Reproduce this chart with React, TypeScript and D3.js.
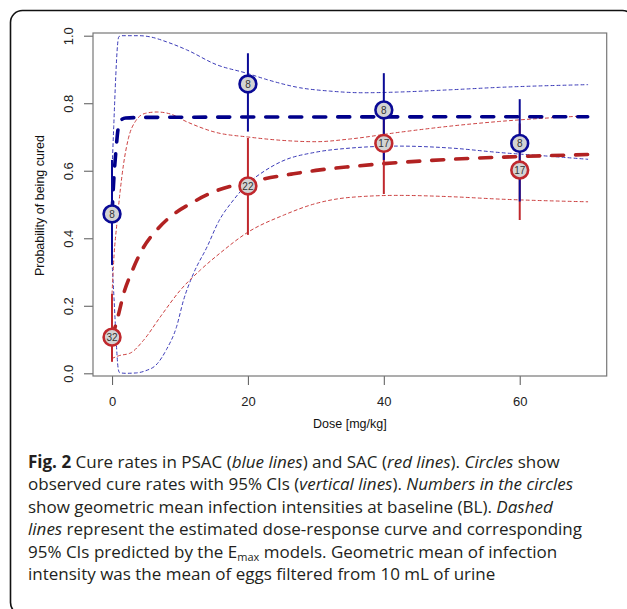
import React, { useEffect, useRef } from 'react';
import * as d3 from 'd3';

// observed cure rates (circles) with 95% CIs
const doses = [0, 20, 40, 60];
const psacRate = [0.472, 0.857, 0.78, 0.681];
const psacLow = [0.321, 0.716, 0.632, 0.509];
const psacHigh = [0.632, 0.948, 0.889, 0.812];
const psacIntensity = ['8', '8', '8', '8'];
const sacRate = [0.107, 0.555, 0.681, 0.602];
const sacLow = [0.034, 0.41, 0.531, 0.454];
const sacHigh = [0.235, 0.697, 0.8, 0.74];
const sacIntensity = ['32', '22', '17', '17'];

// Emax model curves: [dose, probability]
const psacFit: [number, number][] = [
  [0, 0.472], [0.25, 0.57], [0.6, 0.665], [0.9, 0.725], [1.3, 0.75], [2, 0.756],
  [5, 0.758], [20, 0.759], [70, 0.76],
];
const psacFitLow: [number, number][] = [
  [0, 0.33], [0.3, 0.22], [0.6, 0.1], [0.9, 0.015], [1.1, 0.002], [2, 0], [3.5, 0.001],
  [5, 0.008], [6.5, 0.025], [8, 0.07], [9.5, 0.138], [10.5, 0.215], [12, 0.296],
  [14, 0.375], [15.7, 0.45], [17.9, 0.514], [20, 0.562], [22.5, 0.6], [25, 0.628],
  [30, 0.655], [35, 0.667], [42, 0.673], [50, 0.667], [57, 0.654], [65, 0.642], [70, 0.634],
];
const psacFitHigh: [number, number][] = [
  [0, 0.6], [0.25, 0.73], [0.55, 0.88], [0.8, 0.97], [1, 0.997], [1.5, 1], [4, 1],
  [5.5, 0.997], [8, 0.982], [11, 0.958], [15.4, 0.914], [19.8, 0.889], [22.8, 0.87],
  [27.6, 0.846], [32, 0.836], [37, 0.831], [42, 0.833], [50, 0.84], [57, 0.847], [70, 0.855],
];
const sacFit: [number, number][] = [
  [0, 0.105], [0.5, 0.14], [1, 0.178], [1.7, 0.235], [2.9, 0.3], [4.6, 0.372], [6.6, 0.425],
  [8.6, 0.464], [11.5, 0.502], [15.4, 0.541], [20, 0.566], [26.7, 0.591], [30, 0.601],
  [35, 0.612], [40, 0.621], [50, 0.634], [60, 0.642], [70, 0.648],
];
const sacFitLow: [number, number][] = [
  [0, 0.044], [1, 0.052], [2.7, 0.06], [4.6, 0.097], [7.1, 0.167], [10, 0.245], [13, 0.306],
  [15.9, 0.356], [20, 0.418], [25.2, 0.468], [30, 0.503], [35, 0.521], [42, 0.527],
  [50, 0.523], [57, 0.516], [70, 0.508],
];
const sacFitHigh: [number, number][] = [
  [0, 0.235], [0.3, 0.35], [0.7, 0.44], [1.2, 0.54], [1.7, 0.62], [2.4, 0.695], [3.5, 0.748],
  [4.9, 0.77], [6.6, 0.774], [8.6, 0.768], [11, 0.745], [15.4, 0.713], [20, 0.7], [25, 0.69],
  [30, 0.686], [35, 0.694], [42.3, 0.714], [49.7, 0.732], [57, 0.746], [70, 0.763],
];

const xTicks = [0, 20, 40, 60];
const yTicks = [0, 0.2, 0.4, 0.6, 0.8, 1.0];

const BLUE = '#00008b';
const BLUE_THIN = '#3a3ab8';
const RED = '#b22222';
const RED_THIN = '#cc4040';

const W = 627;
const H = 609;

const App: React.FC = () => {
  const plotRef = useRef<SVGGElement>(null);

  useEffect(() => {
    if (!plotRef.current) return;
    const svg = d3.select(plotRef.current);
    svg.selectAll('*').remove();

    // outer rounded frame (runs off the right and bottom edges)
    svg.append('rect')
      .attr('x', 10.5).attr('y', 10.5)
      .attr('width', 624).attr('height', 604)
      .attr('rx', 12)
      .attr('fill', 'none').attr('stroke', '#111').attr('stroke-width', 1.6);

    const box = { left: 93, top: 33, right: 606.7, bottom: 376 };

    const x = d3.scaleLinear().domain([-2.8, 72.8]).range([box.left, box.right]);
    const y = d3.scaleLinear().domain([-0.008, 1.008]).range([box.bottom, box.top]);

    const font = 'Liberation Sans, Arial, Helvetica, sans-serif';

    // axes
    const xAxis = svg.append('g')
      .attr('transform', `translate(0,${box.bottom})`)
      .call(d3.axisBottom(x).tickValues(xTicks).tickSize(9).tickPadding(12).tickFormat(d3.format('d')));
    const yAxis = svg.append('g')
      .attr('transform', `translate(${box.left},0)`)
      .call(d3.axisLeft(y).tickValues(yTicks).tickSize(9).tickFormat(d3.format('.1f')));

    [xAxis, yAxis].forEach(g => {
      g.select('.domain').remove();
      g.selectAll('line').attr('stroke', '#666').attr('stroke-width', 1.1);
      g.selectAll('text')
        .attr('font-family', font).attr('font-size', 13).attr('fill', '#222');
    });
    yAxis.selectAll('text')
      .attr('x', null).attr('dy', '0.35em')
      .attr('text-anchor', 'middle')
      .attr('transform', 'translate(-25,0) rotate(-90)');

    // plot frame
    svg.append('rect')
      .attr('x', box.left).attr('y', box.top)
      .attr('width', box.right - box.left).attr('height', box.bottom - box.top)
      .attr('fill', 'none').attr('stroke', '#777').attr('stroke-width', 1.2);

    // axis titles
    svg.append('text')
      .attr('x', (box.left + box.right) / 2).attr('y', 428)
      .attr('text-anchor', 'middle')
      .attr('font-family', font).attr('font-size', 12.5).attr('fill', '#111')
      .text('Dose [mg/kg]');
    svg.append('text')
      .attr('transform', `translate(40,${(box.top + box.bottom) / 2 + 1}) rotate(-90)`)
      .attr('text-anchor', 'middle').attr('dy', '0.35em')
      .attr('font-family', font).attr('font-size', 12.5).attr('fill', '#111')
      .text('Probability of being cured');

    // model curves
    const line = d3.line<[number, number]>()
      .x(d => x(d[0]))
      .y(d => y(d[1]))
      .curve(d3.curveMonotoneX);

    const thin = [
      { data: psacFitHigh, color: BLUE_THIN },
      { data: psacFitLow, color: BLUE_THIN },
      { data: sacFitHigh, color: RED_THIN },
      { data: sacFitLow, color: RED_THIN },
    ];
    thin.forEach(c => {
      svg.append('path')
        .datum(c.data)
        .attr('d', line)
        .attr('fill', 'none')
        .attr('stroke', c.color)
        .attr('stroke-width', 1)
        .attr('stroke-dasharray', '3,3')
        .attr('stroke-linecap', 'round');
    });

    [{ data: sacFit, color: RED }, { data: psacFit, color: BLUE }].forEach(c => {
      svg.append('path')
        .datum(c.data)
        .attr('d', line)
        .attr('fill', 'none')
        .attr('stroke', c.color)
        .attr('stroke-width', 3.6)
        .attr('stroke-dasharray', '12,12')
        .attr('stroke-linecap', 'round');
    });

    // observed data: CIs then circles
    const groups = [
      { rate: sacRate, low: sacLow, high: sacHigh, labels: sacIntensity, color: '#c0282d' },
      { rate: psacRate, low: psacLow, high: psacHigh, labels: psacIntensity, color: '#0a0a96' },
    ];
    groups.forEach(gr => {
      doses.forEach((d, i) => {
        svg.append('line')
          .attr('x1', x(d)).attr('x2', x(d))
          .attr('y1', y(gr.low[i])).attr('y2', y(gr.high[i]))
          .attr('stroke', gr.color).attr('stroke-width', 2);
      });
    });
    groups.forEach(gr => {
      doses.forEach((d, i) => {
        svg.append('circle')
          .attr('cx', x(d)).attr('cy', y(gr.rate[i]))
          .attr('r', 8.4)
          .attr('fill', '#d3d3d3')
          .attr('stroke', gr.color).attr('stroke-width', 2.6);
        svg.append('text')
          .attr('x', x(d)).attr('y', y(gr.rate[i]))
          .attr('dy', '0.36em')
          .attr('text-anchor', 'middle')
          .attr('font-family', font).attr('font-size', 10).attr('fill', '#333')
          .text(gr.labels[i]);
      });
    });
  }, []);

  const capFont = '"Open Sans", "Noto Sans", sans-serif';
  const lh = 22.4;
  const y0 = 468;
  const cx = 28;

  return (
    <svg
      width={W}
      height={H}
      style={{ position: 'absolute', left: 0, top: 0, background: '#fff' }}
    >
      <g ref={plotRef} />
      <g fontFamily={capFont} fontSize={17} fill="#231f20">
        <text x={cx} y={y0}>
          <tspan fontWeight="bold">Fig. 2</tspan> Cure rates in PSAC (<tspan fontStyle="italic">blue lines</tspan>) and SAC (<tspan fontStyle="italic">red lines</tspan>). <tspan fontStyle="italic">Circles</tspan> show
        </text>
        <text x={cx} y={y0 + lh}>
          observed cure rates with 95% CIs (<tspan fontStyle="italic">vertical lines</tspan>). <tspan fontStyle="italic">Numbers in the circles</tspan>
        </text>
        <text x={cx} y={y0 + lh * 2}>
          show geometric mean infection intensities at baseline (BL). <tspan fontStyle="italic">Dashed</tspan>
        </text>
        <text x={cx} y={y0 + lh * 3}>
          <tspan fontStyle="italic">lines</tspan> represent the estimated dose-response curve and corresponding
        </text>
        <text x={cx} y={y0 + lh * 4}>
          95% CIs predicted by the E<tspan fontSize={11} baselineShift="-3">max</tspan> models. Geometric mean of infection
        </text>
        <text x={cx} y={y0 + lh * 5}>
          intensity was the mean of eggs filtered from 10 mL of urine
        </text>
      </g>
    </svg>
  );
};

export default App;
